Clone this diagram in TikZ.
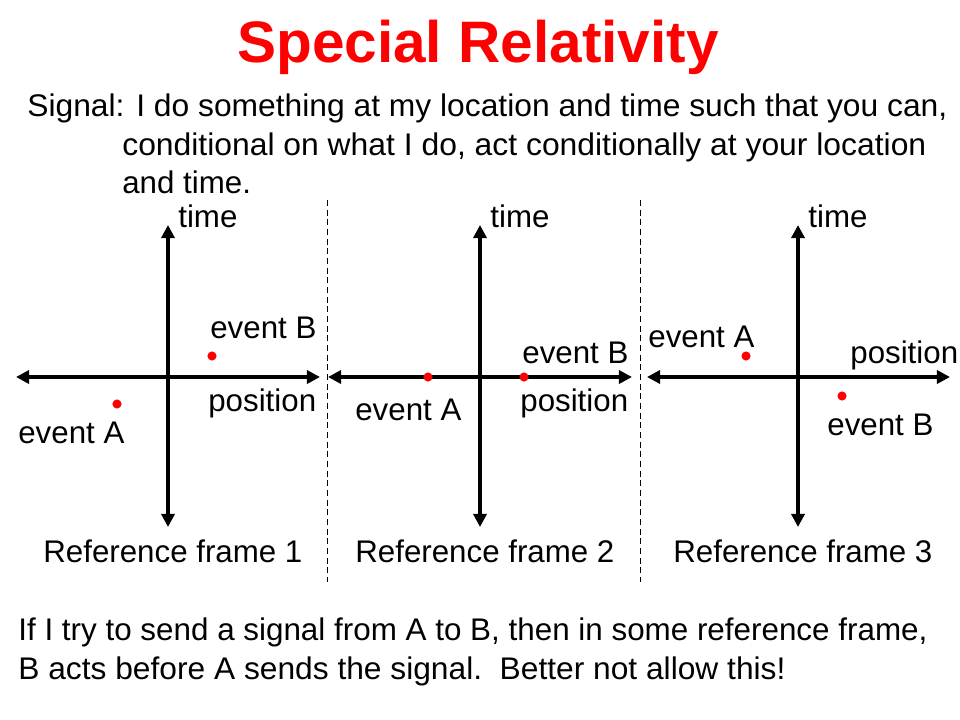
\documentclass[tikz,border=0pt]{standalone}
\usepackage{fontspec}
\setmainfont{Liberation Sans}
\usepackage{graphicx}
\usepackage{tikz}
\usetikzlibrary{arrows.meta}
\definecolor{slidered}{RGB}{255,0,0}

\begin{document}
\begin{tikzpicture}[x=0.2mm, y=-0.2mm,
  axis/.style={line width=2pt, {Triangle[length=7.5pt,width=7.5pt]}-{Triangle[length=7.5pt,width=7.5pt]}},
  sep/.style={line width=0.5pt, dash pattern=on 3.5pt off 2pt},
  dot/.style={circle, fill=slidered, inner sep=0pt, minimum size=5.2pt},
  lbl/.style={inner sep=0pt, anchor=base west, font=\fontsize{17.8}{21}\selectfont}]
\useasboundingbox (0,0) rectangle (960,720);

\node (title) [inner sep=0pt, anchor=base, text=slidered, font=\fontsize{33.3}{40}\selectfont\bfseries] at (478,63) {Special Relativity};

\node (sig1) [lbl] at (27,117) {\resizebox{523.5pt}{\height}{Signal: I do something at my location and time such that you can,}};
\node (sig2) [lbl] at (122,155) {\resizebox{457.5pt}{\height}{conditional on what I do, act conditionally at your location}};
\node (sig3) [lbl] at (122,193) {and time.};

% separators
\coordinate (s1top) at (327,200);
\coordinate (s1bot) at (327,582);
\coordinate (s2top) at (640,200);
\coordinate (s2bot) at (640,582);
\draw [sep] (s1top) -- (s1bot);
\draw [sep] (s2top) -- (s2bot);

% frame 1
\coordinate (t1) at (168,225);
\coordinate (b1) at (168,527);
\coordinate (l1) at (16,377);
\coordinate (r1) at (320,377);
\draw [axis] (b1) -- (t1);
\draw [axis] (l1) -- (r1);
\node (evA1) [dot] at (117,404) {};
\node (evB1) [dot] at (212,356) {};
\node (time1) [lbl] at (178,228) {time};
\node (labB1) [lbl] at (210,338) {event B};
\node (pos1) [lbl] at (208,411) {position};
\node (labA1) [lbl] at (18,443) {event A};
\node (frame1) [lbl] at (43,562) {Reference frame 1};

% frame 2
\coordinate (t2) at (480,225);
\coordinate (b2) at (480,527);
\coordinate (l2) at (328,377);
\coordinate (r2) at (632,377);
\draw [axis] (b2) -- (t2);
\draw [axis] (l2) -- (r2);
\node (evA2) [dot] at (428,377) {};
\node (evB2) [dot] at (524,377) {};
\node (time2) [lbl] at (490,228) {time};
\node (labB2) [lbl] at (522,363) {event B};
\node (pos2) [lbl] at (520,411) {position};
\node (labA2) [lbl] at (355,420) {event A};
\node (frame2) [lbl] at (355,562) {Reference frame 2};

% frame 3
\coordinate (t3) at (798,225);
\coordinate (b3) at (798,527);
\coordinate (l3) at (647,377);
\coordinate (r3) at (950,377);
\draw [axis] (b3) -- (t3);
\draw [axis] (l3) -- (r3);
\node (evA3) [dot] at (746,356) {};
\node (evB3) [dot] at (842,396) {};
\node (time3) [lbl] at (808,228) {time};
\node (labA3) [lbl] at (648,347) {event A};
\node (pos3) [lbl] at (850,363) {position};
\node (labB3) [lbl] at (827,435) {event B};
\node (frame3) [lbl] at (673,562) {Reference frame 3};

\node (note1) [lbl] at (18,640) {\resizebox{517.3pt}{\height}{If I try to send a signal from A to B, then in some reference frame,}};
\node (note2) [lbl] at (18,679) {\resizebox{436.5pt}{\height}{B acts before A sends the signal.\ \ Better not allow this!}};
\end{tikzpicture}
\end{document}
